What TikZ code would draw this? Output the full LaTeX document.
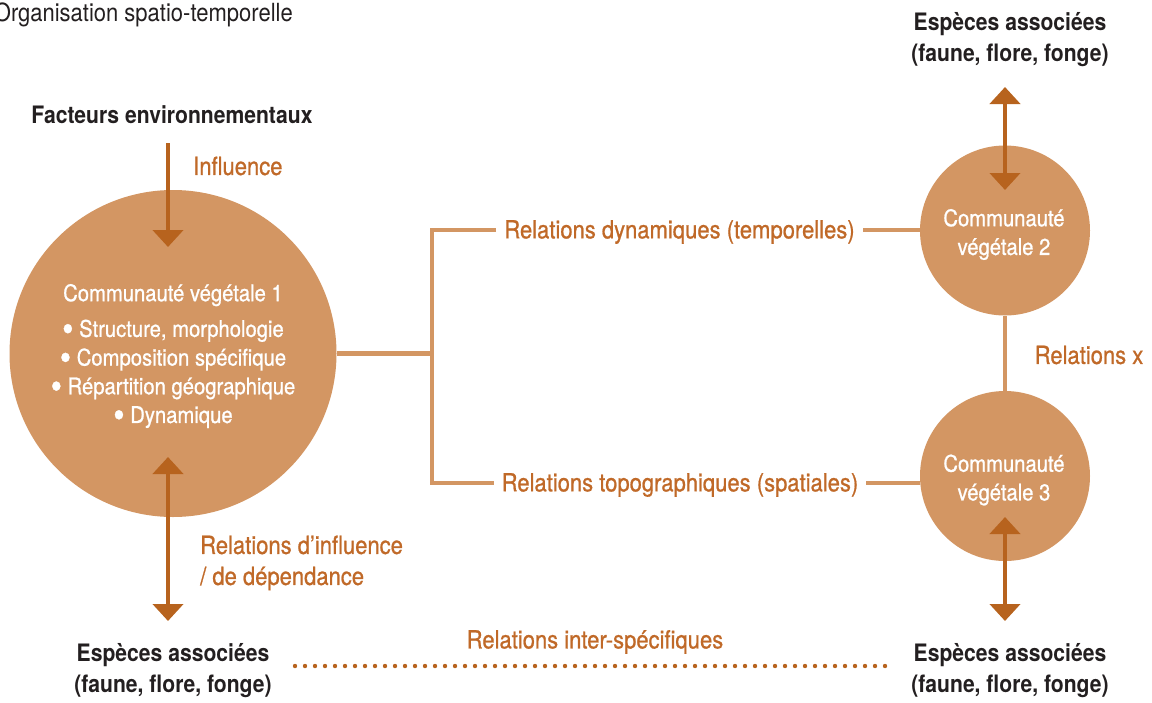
\documentclass[tikz,border=0pt]{standalone}
\usepackage{fontspec}
\usepackage{graphicx}
\setmainfont{TeX Gyre Heros}[FakeStretch=0.88]
\newfontfamily\medfont{TeX Gyre Heros}[FakeStretch=0.88,FakeBold=0.8]
\usetikzlibrary{arrows.meta,calc}
\definecolor{circfill}{RGB}{211,150,99}
\definecolor{arrowcol}{RGB}{183,99,30}
\definecolor{labcol}{RGB}{192,105,40}
\definecolor{inkblack}{RGB}{35,31,32}
\newcommand\bigbul{\raisebox{-4.5pt}[0pt][0pt]{\scalebox{1.6}{\textbullet}}}
\begin{document}
\begin{tikzpicture}[x=1pt,y=-1pt,
 comm/.style={circle,fill=circfill,draw=none,inner sep=0pt},
 commtxt/.style={text=white,align=center,inner sep=0pt,font=\fontsize{23}{28.7}\medfont},
 head/.style={text=inkblack,align=center,font=\fontsize{24}{31}\selectfont\bfseries,inner sep=0pt},
 rel/.style={text=labcol,font=\fontsize{25}{31}\medfont,inner sep=0pt},
 conn/.style={draw=circfill,line width=4.5pt},
 dep/.style={draw=arrowcol,line width=4.5pt,-{Triangle[width=30pt,length=17pt]}},
 ddep/.style={draw=arrowcol,line width=4.5pt,{Triangle[width=30pt,length=17pt]}-{Triangle[width=30pt,length=17pt]}},
 dots/.style={draw=arrowcol,line width=4.4pt,line cap=round,dash pattern=on 0pt off 10pt}]
\useasboundingbox (0,0) rectangle (1152,702);

% title
\node[text=inkblack,font=\fontsize{25}{30}\selectfont,anchor=east,inner sep=0pt] (org) at (293,15) {Organisation spatio-temporelle};

% connector corner points
\coordinate (jt) at (432,230);
\coordinate (jb) at (432,483);
\coordinate (dynL) at (496,230);
\coordinate (dynR) at (863,230);
\coordinate (topL) at (494,483);
\coordinate (topR) at (866,483);

% circles
\node[comm,minimum size=327pt] (c1) at (173,353.5) {};
\node[comm,minimum size=170pt] (c2) at (1005,230.5) {};
\node[comm,minimum size=170pt] (c3) at (1005,476) {};
\node[commtxt] (c1t) at (173,356) {Communauté végétale 1\\[7pt]
 \bigbul{} Structure, morphologie\\
 \bigbul{} Composition spécifique\\
 \bigbul{} Répartition géographique\\
 \bigbul{} Dynamique};
\node[commtxt] (c2t) at (1004,234.5) {Communauté\\végétale 2};
\node[commtxt] (c3t) at (1004,480) {Communauté\\végétale 3};

\draw[conn] (c1.east) -- (c1.east -| jt);
\draw[conn] (dynL) -- (jt) -- (jb) -- (topL);
\draw[conn] (dynR) -- (dynR -| c2.west);
\draw[conn] (topR) -- (topR -| c3.west);
\draw[conn] (c2.south) -- (c3.north);

% headings
\node[head] (fact) at (172,115) {Facteurs environnementaux};
\node[head] (eTop) at (1010,40) {Espèces associées\\(faune, flore, fonge)};
\node[head] (eBL) at (173,671) {Espèces associées\\(faune, flore, fonge)};
\node[head] (eBR) at (1010,671) {Espèces associées\\(faune, flore, fonge)};

% relation labels
\node[rel,anchor=west] (infl) at (193,166) {Influence};
\node[rel,anchor=west,align=left] (rinf) at (200,563) {Relations d’influence\\/ de dépendance};
\node[rel] (rdyn) at (679.5,232) {Relations dynamiques (temporelles)};
\node[rel] (rtop) at (680,485) {Relations topographiques (spatiales)};
\node[rel] (rx) at (1089,355) {Relations x};
\node[rel] (rinter) at (595,642) {Relations inter-spécifiques};

% arrows
\coordinate (a1s) at (168,143);
\coordinate (a1e) at (168,247);
\draw[dep] (a1s) -- (a1e);
\coordinate (a2s) at (168,457);
\coordinate (a2e) at (168,621);
\draw[ddep] (a2s) -- (a2e);
\coordinate (a3s) at (1005,87);
\coordinate (a3e) at (1005,190);
\draw[ddep] (a3s) -- (a3e);
\coordinate (a4s) at (1005,517);
\coordinate (a4e) at (1005,621);
\draw[ddep] (a4s) -- (a4e);

% inter-specific dotted relation
\coordinate (d1) at (295,666);
\coordinate (d2) at (895,666);
\draw[dots] (d1) -- (d2);
\end{tikzpicture}
\end{document}
